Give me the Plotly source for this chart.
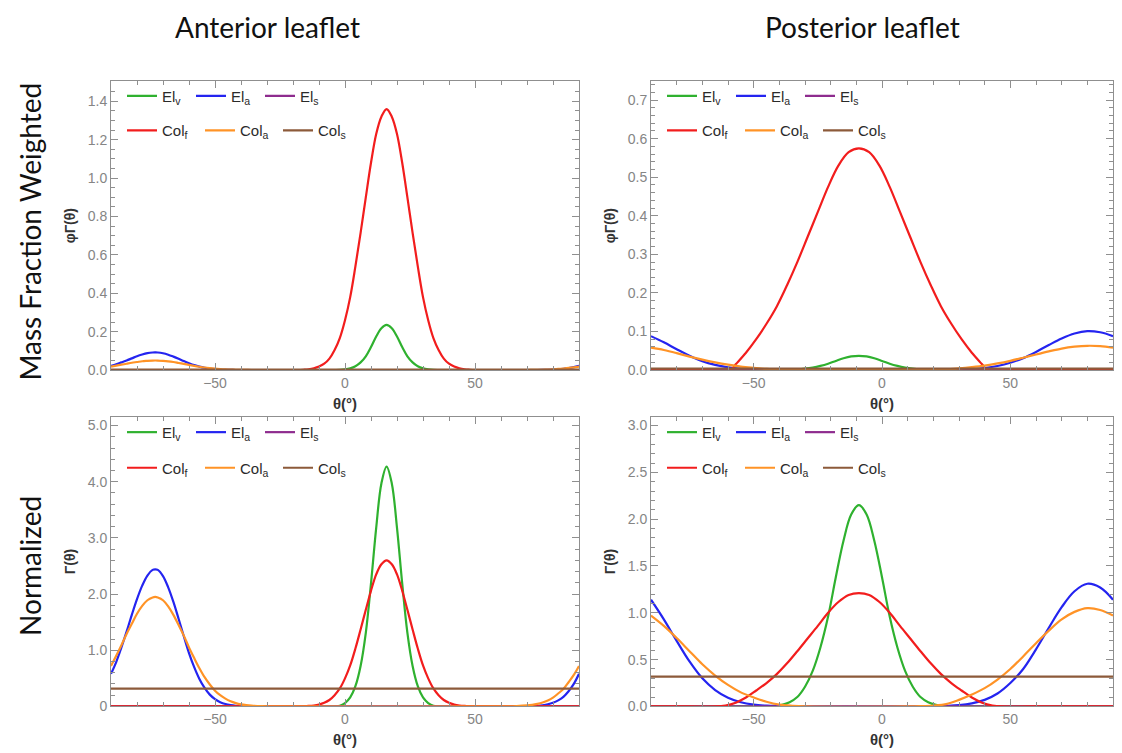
import plotly.graph_objects as go

# ---------------- data ----------------
SERIES = ["El<sub>v</sub>", "El<sub>a</sub>", "El<sub>s</sub>",
          "Col<sub>f</sub>", "Col<sub>a</sub>", "Col<sub>s</sub>"]
COLORS = ["#2fb12f", "#2424f0", "#8e2c8e", "#f21d1d", "#ff9326", "#8c5a3a"]

PANEL_TITLES = ["Anterior leaflet", "Posterior leaflet"]
ROW_TITLES = ["Mass Fraction Weighted", "Normalized"]

# ---- Anterior, normalized
A_N_ELV_T = [-90, -30, -6, -4, -2, 0, 2, 4, 6, 8, 10, 12, 14, 16, 18, 20, 22, 24, 26, 28, 30, 32, 34, 36, 38, 60, 90]
A_N_ELV_V = [0, 0, 0, 0.002, 0.01, 0.06, 0.16, 0.36, 0.72, 1.31, 2.19, 3.18, 3.97, 4.27, 3.97, 3.18, 2.19, 1.31, 0.72, 0.36, 0.16, 0.06, 0.01, 0.002, 0, 0, 0]
A_N_ELA_T = [-90, -88, -86, -84, -82, -80, -78, -76, -74, -73, -72, -70, -68, -66, -64, -62, -60, -58, -56, -54,
             -52, -50, -48, -46, -44, -42, -38, -30, 70, 72, 76, 78, 80, 82, 84, 86, 88, 90]
A_N_ELA_V = [0.58, 0.79, 1.05, 1.33, 1.63, 1.91, 2.15, 2.33, 2.43, 2.44, 2.43, 2.32, 2.12, 1.86, 1.56, 1.25, 0.95, 0.70, 0.49, 0.33,
             0.21, 0.13, 0.076, 0.042, 0.023, 0.012, 0.003, 0, 0, 0.004, 0.02, 0.036, 0.064, 0.107, 0.17, 0.27, 0.40, 0.58]
A_N_COLF_T = [-90, -30, -20, -18, -16, -14, -12, -10, -8, -6, -4, -2, 0, 2, 4, 6, 8, 10, 12, 14, 16, 18, 20, 22, 24,
              26, 28, 30, 32, 34, 36, 38, 40, 42, 44, 46, 48, 50, 52, 62, 90]
A_N_COLF_V = [0, 0, 0, 0, 0.003, 0.008, 0.017, 0.034, 0.064, 0.114, 0.20, 0.32, 0.50, 0.73, 1.03, 1.37, 1.72, 2.06, 2.35, 2.53, 2.60, 2.53, 2.35, 2.06, 1.72,
              1.37, 1.03, 0.73, 0.50, 0.32, 0.20, 0.114, 0.064, 0.034, 0.017, 0.008, 0.003, 0, 0, 0, 0]
A_N_COLA_T = [-90, -88, -86, -84, -82, -80, -78, -76, -74, -73, -72, -70, -68, -66, -64, -62, -60, -58, -56, -54, -52, -50,
              -48, -46, -44, -42, -40, -38, -36, -32, -26, 60, 66, 70, 72, 74, 76, 78, 80, 82, 84, 86, 88, 90]
A_N_COLA_V = [0.72, 0.90, 1.09, 1.29, 1.47, 1.65, 1.79, 1.89, 1.94, 1.95, 1.94, 1.89, 1.78, 1.63, 1.45, 1.26, 1.05, 0.86, 0.68, 0.52, 0.39, 0.28,
              0.20, 0.138, 0.091, 0.059, 0.037, 0.023, 0.014, 0.005, 0, 0, 0.006, 0.017, 0.028, 0.046, 0.071, 0.107, 0.158, 0.23, 0.31, 0.43, 0.56, 0.72]
A_N_COLS_V = [0.318, 0.318]
ZERO_V = [0, 0]
ENDS_T = [-90, 90]

# ---- Anterior, mass fraction weighted
A_W_ELV_V = [0, 0, 0, 0.0001, 0.0006, 0.0033, 0.009, 0.02, 0.04, 0.072, 0.12, 0.175, 0.218, 0.235, 0.218, 0.175, 0.12, 0.072, 0.04, 0.02, 0.009, 0.0033, 0.0006, 0.0001, 0, 0, 0]
A_W_ELA_V = [0.022, 0.030, 0.040, 0.050, 0.061, 0.072, 0.081, 0.088, 0.0916, 0.092, 0.0916, 0.0875, 0.080, 0.070, 0.059, 0.047, 0.036, 0.026, 0.018, 0.012,
             0.008, 0.005, 0.003, 0.0016, 0.0009, 0.0005, 0.0001, 0, 0, 0.00015, 0.0008, 0.0014, 0.0024, 0.004, 0.0064, 0.010, 0.015, 0.022]
A_W_COLF_V = [0, 0, 0, 0, 0.0016, 0.004, 0.009, 0.018, 0.033, 0.06, 0.105, 0.167, 0.26, 0.38, 0.54, 0.715, 0.90, 1.08, 1.23, 1.32, 1.36, 1.32, 1.23, 1.08, 0.90,
              0.715, 0.54, 0.38, 0.26, 0.167, 0.105, 0.06, 0.033, 0.018, 0.009, 0.004, 0.0016, 0, 0, 0, 0]
A_W_COLA_V = [0.018, 0.023, 0.028, 0.033, 0.038, 0.042, 0.046, 0.048, 0.0497, 0.050, 0.0497, 0.048, 0.0456, 0.042, 0.037, 0.032, 0.027, 0.022, 0.0174, 0.0133, 0.010, 0.0072,
              0.0051, 0.0035, 0.0023, 0.0015, 0.0009, 0.0006, 0.0004, 0.0001, 0, 0, 0.00015, 0.0004, 0.0007, 0.0012, 0.0018, 0.0027, 0.004, 0.0059, 0.0079, 0.011, 0.0143, 0.018]
A_W_COLS_V = [0.003, 0.003]

# ---- Posterior, normalized
P_N_ELV_T = [-90, -50, -45, -42, -39, -36, -33, -30, -27, -24, -21, -18, -15, -12, -9, -6, -3, 0, 3, 6, 9, 12, 15, 18, 21, 24, 27, 32, 90]
P_N_ELV_V = [0, 0, 0, 0.005, 0.017, 0.045, 0.10, 0.21, 0.38, 0.63, 0.96, 1.38, 1.77, 2.05, 2.15, 2.05, 1.77, 1.38, 0.96, 0.63, 0.38, 0.21, 0.10, 0.045, 0.017, 0.005, 0, 0, 0]
P_N_ELA_T = [-90, -85, -80, -75, -70, -65, -60, -55, -50, -45, -40, -35, 15, 20, 25, 30, 35, 40, 45, 50, 55, 60, 65, 70, 75, 80, 85, 90]
P_N_ELA_V = [1.14, 0.93, 0.70, 0.48, 0.30, 0.175, 0.093, 0.045, 0.020, 0.008, 0.003, 0, 0, 0.002, 0.006, 0.014, 0.033, 0.070, 0.138, 0.25, 0.40, 0.61, 0.84, 1.06, 1.23, 1.31, 1.27, 1.14]
P_N_COLF_T = [-90, -75, -65, -61, -57, -53, -49, -45, -41, -37, -33, -29, -25, -21, -17, -13, -9, -5, -1, 3, 7, 11, 15, 19,
              23, 27, 31, 35, 39, 43, 47, 57, 90]
P_N_COLF_V = [0, 0, 0, 0.01, 0.04, 0.095, 0.17, 0.25, 0.345, 0.46, 0.59, 0.725, 0.86, 1.0, 1.115, 1.19, 1.21, 1.19, 1.115, 1.0, 0.86, 0.725, 0.59, 0.46,
              0.345, 0.25, 0.17, 0.095, 0.04, 0.01, 0, 0, 0]
P_N_COLA_T = [-90, -85, -80, -75, -70, -65, -60, -55, -50, -45, -40, -35, -30, 10, 15, 20, 25, 30, 35, 40, 45, 50, 55, 60, 65, 70, 75, 80, 85, 90]
P_N_COLA_V = [0.97, 0.86, 0.73, 0.59, 0.45, 0.33, 0.23, 0.15, 0.095, 0.05, 0.02, 0.007, 0, 0, 0.003, 0.01, 0.025, 0.07, 0.127, 0.195, 0.287, 0.40, 0.534, 0.675, 0.81, 0.93, 1.01, 1.05, 1.03, 0.97]
P_N_COLS_V = [0.318, 0.318]

# ---- Posterior, mass fraction weighted
P_W_ELV_V = [0, 0, 0, 0.0001, 0.0003, 0.0008, 0.0017, 0.0036, 0.0065, 0.0108, 0.0165, 0.0237, 0.0305, 0.0353, 0.037, 0.0353, 0.0305, 0.0237, 0.0165, 0.0108, 0.0065, 0.0036, 0.0017, 0.0008, 0.0003, 0.0001, 0, 0, 0]
P_W_ELA_V = [0.088, 0.072, 0.054, 0.037, 0.023, 0.0135, 0.0072, 0.0035, 0.0015, 0.0006, 0.0002, 0, 0, 0.0002, 0.0005, 0.0011, 0.0025, 0.0054, 0.0106, 0.019, 0.031, 0.047, 0.065, 0.082, 0.095, 0.101, 0.098, 0.088]
P_W_COLF_T = [-90, -70, -59, -57, -53, -49, -45, -41, -37, -33, -29, -25, -21, -17, -13, -9, -5, -1, 3, 7, 11, 15, 19, 23, 27, 31, 35, 39, 41, 52, 90]
P_W_COLF_V = [0, 0, 0, 0.015, 0.045, 0.08, 0.12, 0.165, 0.22, 0.28, 0.345, 0.41, 0.475, 0.53, 0.565, 0.575, 0.565, 0.53, 0.475, 0.41, 0.345, 0.28, 0.22,
              0.165, 0.12, 0.08, 0.045, 0.015, 0, 0, 0]
P_W_COLA_V = [0.058, 0.052, 0.044, 0.035, 0.027, 0.020, 0.014, 0.009, 0.0057, 0.003, 0.0012, 0.0004, 0, 0, 0.0002, 0.0006, 0.0015, 0.0042, 0.0076, 0.0117, 0.0172, 0.024, 0.032, 0.0405, 0.0486, 0.0558, 0.0606, 0.063, 0.062, 0.058]
P_W_COLS_V = [0.004, 0.004]

X_TICKS = [-50, 0, 50]
X_TICKTEXT = ["\u221250", "0", "50"]
Y_TICKS = [
    ([0, 0.2, 0.4, 0.6, 0.8, 1.0, 1.2, 1.4], ["0.0", "0.2", "0.4", "0.6", "0.8", "1.0", "1.2", "1.4"]),
    ([0, 0.1, 0.2, 0.3, 0.4, 0.5, 0.6, 0.7], ["0.0", "0.1", "0.2", "0.3", "0.4", "0.5", "0.6", "0.7"]),
    ([0, 1, 2, 3, 4, 5], ["0", "1.0", "2.0", "3.0", "4.0", "5.0"]),
    ([0, 0.5, 1, 1.5, 2, 2.5, 3], ["0.0", "0.5", "1.0", "1.5", "2.0", "2.5", "3.0"]),
]
Y_RANGES = [[0, 1.505], [0, 0.749], [0, 5.16], [0, 3.096]]
Y_MINOR = [0.05, 0.02, 0.2, 0.1]
Y_TITLES = ["<b>φΓ(θ)</b>", "<b>φΓ(θ)</b>", "<b>Γ(θ)</b>", "<b>Γ(θ)</b>"]

PANELS = [
    [(A_N_ELV_T, A_W_ELV_V), (A_N_ELA_T, A_W_ELA_V), (ENDS_T, ZERO_V),
     (A_N_COLF_T, A_W_COLF_V), (A_N_COLA_T, A_W_COLA_V), (ENDS_T, A_W_COLS_V)],
    [(P_N_ELV_T, P_W_ELV_V), (P_N_ELA_T, P_W_ELA_V), (ENDS_T, ZERO_V),
     (P_W_COLF_T, P_W_COLF_V), (P_N_COLA_T, P_W_COLA_V), (ENDS_T, P_W_COLS_V)],
    [(A_N_ELV_T, A_N_ELV_V), (A_N_ELA_T, A_N_ELA_V), (ENDS_T, ZERO_V),
     (A_N_COLF_T, A_N_COLF_V), (A_N_COLA_T, A_N_COLA_V), (ENDS_T, A_N_COLS_V)],
    [(P_N_ELV_T, P_N_ELV_V), (P_N_ELA_T, P_N_ELA_V), (ENDS_T, ZERO_V),
     (P_N_COLF_T, P_N_COLF_V), (P_N_COLA_T, P_N_COLA_V), (ENDS_T, P_N_COLS_V)],
]

# ---------------- layout geometry (page pixels) ----------------
OFF = 8                              # default body margin of the page
W, H = 1122 - 2 * OFF, 753 - OFF     # figure reaches the bottom of the window


def fx(px):
    return (px - OFF) / W


def fy(py):
    return 1 - (py - OFF) / H


FRAMES_X = [(111, 579), (651, 1113), (111, 579), (651, 1113)]
FRAMES_Y = [(82, 374), (82, 374), (421, 714), (421, 714)]
LEG_ROWS_Y = [(97, 132), (97, 132), (437, 473), (437, 473)]
FONT = "Liberation Sans, Arial, sans-serif"

fig = go.Figure()
layout = dict(
    width=W, height=H, margin=dict(l=0, r=0, t=0, b=0),
    paper_bgcolor="white", plot_bgcolor="white",
    font=dict(family=FONT, color="#333"),
    showlegend=True,
)

for p in range(4):
    sx = "" if p == 0 else str(p + 1)
    xa, ya = "x" + sx, "y" + sx
    lg1 = "legend" if p == 0 else "legend%d" % (2 * p + 1)
    lg2 = "legend%d" % (2 * p + 2)
    for i, (tt, vv) in enumerate(PANELS[p]):
        fig.add_trace(go.Scatter(
            x=tt, y=vv, mode="lines", name=SERIES[i],
            line=dict(color=COLORS[i], width=2.2, shape="spline", smoothing=1.0),
            xaxis=xa, yaxis=ya, legend=lg1 if i < 3 else lg2,
            hoverinfo="skip"))
    x0, x1 = FRAMES_X[p]
    y0, y1 = FRAMES_Y[p]
    common = dict(
        showline=True, linecolor="#8f8f8f", linewidth=1, mirror="allticks",
        ticks="inside", ticklen=7, tickwidth=1, tickcolor="#8f8f8f",
        showgrid=False, zeroline=False,
        tickfont=dict(family=FONT, size=14, color="#858585"),
    )
    layout["xaxis" + sx] = dict(
        common, domain=[fx(x0), fx(x1)], range=[-90, 90], anchor=ya,
        tickvals=X_TICKS, ticktext=X_TICKTEXT,
        minor=dict(dtick=10, tick0=0, ticks="inside", ticklen=4, tickcolor="#8f8f8f"),
        title=dict(text="<b>θ(°)</b>", standoff=8,
                   font=dict(family=FONT, size=15, color="#333")),
    )
    tv, tx = Y_TICKS[p]
    layout["yaxis" + sx] = dict(
        common, domain=[fy(y1), fy(y0)], range=Y_RANGES[p], anchor=xa,
        tickvals=tv, ticktext=tx,
        minor=dict(dtick=Y_MINOR[p], tick0=0, ticks="inside", ticklen=4, tickcolor="#8f8f8f"),
        title=dict(text=Y_TITLES[p], standoff=8,
                   font=dict(family=FONT, size=14, color="#333")),
    )
    r1, r2 = LEG_ROWS_Y[p]
    for lg, ry, ew in ((lg1, r1, 24), (lg2, r2, 33)):
        layout[lg] = dict(
            orientation="h", x=fx(x0 + 11), xanchor="left",
            y=fy(ry), yanchor="middle",
            bgcolor="rgba(0,0,0,0)", borderwidth=0,
            entrywidth=ew, entrywidthmode="pixels", itemwidth=30,
            font=dict(family=FONT, size=15, color="#2a2a2a"),
            tracegroupgap=0,
        )

TFONT = dict(family="Lato, sans-serif", size=28, color="#111")
layout["annotations"] = [
    dict(text=PANEL_TITLES[0], x=fx(267), y=1, xref="paper", yref="paper",
         xanchor="center", yanchor="top", showarrow=False, font=TFONT),
    dict(text=PANEL_TITLES[1], x=fx(862), y=1, xref="paper", yref="paper",
         xanchor="center", yanchor="top", showarrow=False, font=TFONT),
    dict(text=ROW_TITLES[0], x=fx(30), y=fy(234), xref="paper", yref="paper", textangle=-90,
         xanchor="center", yanchor="middle", showarrow=False, font=TFONT),
    dict(text=ROW_TITLES[1], x=fx(30), y=fy(572), xref="paper", yref="paper", textangle=-90,
         xanchor="center", yanchor="middle", showarrow=False, font=TFONT),
]
fig.update_layout(**layout)
fig.write_html("out.html")
